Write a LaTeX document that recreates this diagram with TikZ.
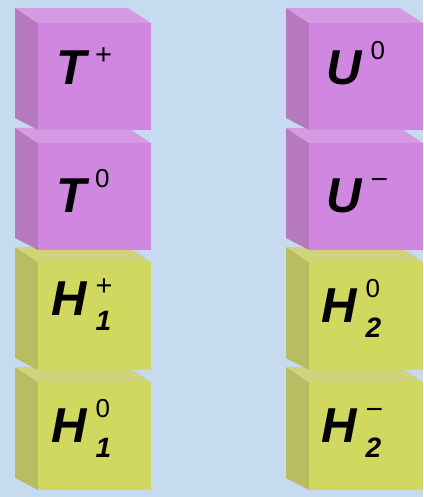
\documentclass[tikz,border=0pt]{standalone}
\usepackage{fontspec}
\setmainfont{Liberation Sans}
\usepackage{tikz}

\definecolor{bgblue}{RGB}{198,218,240}
\definecolor{pinkfront}{RGB}{207,135,223}
\definecolor{pinkside}{RGB}{184,122,190}
\definecolor{pinktop}{RGB}{212,155,226}
\definecolor{yelfront}{RGB}{208,216,96}
\definecolor{yelside}{RGB}{184,188,98}
\definecolor{yeltop}{RGB}{205,212,122}

% cube: #1 x of back edge, #2 x of front left, #3 x of front right,
% #4 y of front top, #5 y of front bottom, #6 colour prefix
\newcommand{\blockcube}[6]{%
  \fill[#6side] (#2,#4) -- (#1,#4-15) -- (#1,#5-12) -- (#2,#5) -- cycle;
  \fill[#6top] (#2,#4) -- (#1,#4-15) -- (#3-23,#4-15) -- (#3,#4) -- cycle;
  \fill[#6front] (#2,#4) rectangle (#3,#5);
}
% particle label: letter, superscript, subscript
\newcommand{\partlbl}[3]{%
  {\fontsize{49}{49}\selectfont\bfseries\itshape #1}\kern9pt
  \rlap{\raisebox{25pt}{\fontsize{26}{26}\selectfont #2}}%
  \raisebox{-15pt}{\fontsize{28}{28}\selectfont\bfseries\itshape #3}}
\newcommand{\chplus}{\raisebox{-5pt}{\fontsize{29}{29}\selectfont +}}
\newcommand{\chminus}{\raisebox{-2pt}{\fontsize{30}{30}\selectfont −}}

\begin{document}
\begin{tikzpicture}[x=1pt,y=-1pt]
			\fill[bgblue] (0,0) rectangle (423,497);
			\useasboundingbox (0,0) rectangle (423,497);
			% left column, drawn from the bottom up
			\blockcube{15}{38}{151}{382}{490}{yel}
			\blockcube{15}{38}{151}{262}{370}{yel}
			\blockcube{15}{38}{151}{143}{250}{pink}
			\blockcube{15}{38}{151}{23}{130}{pink}
			% right column
			\blockcube{286}{309}{423}{382}{490}{yel}
			\blockcube{286}{309}{423}{262}{370}{yel}
			\blockcube{286}{309}{423}{143}{250}{pink}
			\blockcube{286}{309}{423}{23}{130}{pink}
			% labels
			\node[anchor=base west,inner sep=0pt] (tplus) at (56,85) {\partlbl{T}{\chplus}{}};
			\node[anchor=base west,inner sep=0pt] (tzero) at (56,212) {\partlbl{T}{0}{}};
			\node[anchor=base west,inner sep=0pt] (honeplus) at (51,315) {\partlbl{H}{\chplus}{1}};
			\node[anchor=base west,inner sep=0pt] (honezero) at (51,442) {\partlbl{H}{0}{1}};
			\node[anchor=base west,inner sep=0pt] (uzero) at (326,85) {\partlbl{U}{0}{}};
			\node[anchor=base west,inner sep=0pt] (uminus) at (326,212) {\partlbl{U}{\chminus}{}};
			\node[anchor=base west,inner sep=0pt] (htwozero) at (321,322) {\partlbl{H}{0}{2}};
			\node[anchor=base west,inner sep=0pt] (htwominus) at (321,442) {\partlbl{H}{\chminus}{2}};
		\end{tikzpicture}
\end{document}
